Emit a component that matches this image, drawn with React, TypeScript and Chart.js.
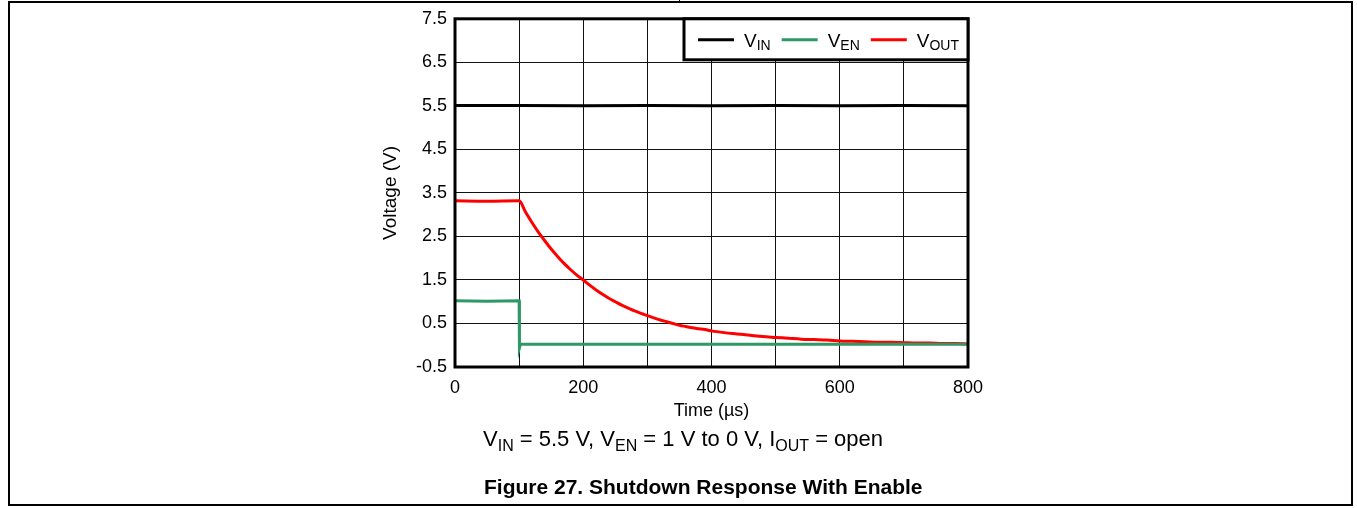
import React, { useEffect, useRef } from "react";
import { Chart, registerables } from "chart.js";

Chart.register(...registerables);

// ---- data ----
const vinTime = [0, 100, 200, 300, 400, 500, 600, 700, 800];
const vinValues = [5.51, 5.51, 5.5, 5.51, 5.5, 5.51, 5.5, 5.51, 5.5];

const venTime = [0, 50, 100, 100.5, 102, 200, 300, 400, 500, 600, 700, 800];
const venValues = [1.02, 1.01, 1.02, -0.06, 0.02, 0.02, 0.02, 0.02, 0.02, 0.02, 0.02, 0.02];

const voutTime = [
  0, 50, 100, 110, 120, 130, 140, 150, 160, 170, 180, 190, 200, 210, 220, 230, 240, 250,
  260, 270, 280, 290, 300, 310, 320, 330, 340, 350, 360, 370, 380, 390, 400, 420, 440,
  460, 480, 500, 520, 540, 560, 580, 600, 620, 640, 660, 680, 700, 720, 740, 760, 780, 800,
];
const voutValues = [
  3.32, 3.31, 3.32, 3.06, 2.82, 2.6, 2.4, 2.21, 2.04, 1.88, 1.74, 1.61, 1.5, 1.38, 1.27,
  1.17, 1.08, 1.0, 0.92, 0.85, 0.79, 0.73, 0.68, 0.63, 0.58, 0.54, 0.5, 0.46, 0.43, 0.4,
  0.38, 0.36, 0.33, 0.29, 0.26, 0.23, 0.2, 0.18, 0.16, 0.14, 0.13, 0.12, 0.1, 0.09, 0.08,
  0.07, 0.07, 0.06, 0.05, 0.05, 0.04, 0.04, 0.03,
];

const xTickLabels = ["0", "200", "400", "600", "800"];
const yTickLabels = ["-0.5", "0.5", "1.5", "2.5", "3.5", "4.5", "5.5", "6.5", "7.5"];

const seriesMain = ["V", "V", "V"];
const seriesSub = ["IN", "EN", "OUT"];
const seriesColors = ["#000000", "#2e9966", "#ff0000"];

const FONT = "'Liberation Sans', Arial, Helvetica, sans-serif";

const toPoints = (xs: number[], ys: number[]) => xs.map((x, i) => ({ x, y: ys[i] }));

const framePlugin = {
  id: "frameAndLegend",
  afterDatasetsDraw(chart: any) {
    const ctx = chart.ctx;
    const { left, right, top, bottom } = chart.chartArea;
    ctx.save();
    ctx.lineWidth = 3;
    ctx.strokeStyle = "#000";
    ctx.strokeRect(left, top, right - left, bottom - top);

    // legend box
    const w = 284;
    const h = 41;
    const x0 = right - w;
    const y0 = top;
    ctx.fillStyle = "#fff";
    ctx.fillRect(x0, y0, w, h);
    ctx.strokeRect(x0, y0, w, h);

    let x = x0 + 14;
    const cy = y0 + 21;
    ctx.textBaseline = "alphabetic";
    ctx.textAlign = "left";
    for (let i = 0; i < seriesMain.length; i++) {
      ctx.strokeStyle = seriesColors[i];
      ctx.lineWidth = 3;
      ctx.beginPath();
      ctx.moveTo(x, cy);
      ctx.lineTo(x + 36, cy);
      ctx.stroke();
      x += 46;
      ctx.fillStyle = "#000";
      ctx.font = `19px ${FONT}`;
      ctx.fillText(seriesMain[i], x, cy + 7);
      x += ctx.measureText(seriesMain[i]).width;
      ctx.font = `14px ${FONT}`;
      ctx.fillText(seriesSub[i], x, cy + 10);
      x += ctx.measureText(seriesSub[i]).width + 11;
    }
    ctx.restore();
  },
};

export default function App() {
  const canvasRef = useRef<HTMLCanvasElement | null>(null);

  useEffect(() => {
    if (!canvasRef.current) return;
    const chart = new Chart(canvasRef.current, {
      type: "line",
      data: {
        datasets: [
          {
            label: "VIN",
            data: toPoints(vinTime, vinValues),
            borderColor: seriesColors[0],
            borderWidth: 3,
            pointRadius: 0,
            tension: 0,
          },
          {
            label: "VEN",
            data: toPoints(venTime, venValues),
            borderColor: seriesColors[1],
            borderWidth: 3,
            pointRadius: 0,
            tension: 0,
          },
          {
            label: "VOUT",
            data: toPoints(voutTime, voutValues),
            borderColor: seriesColors[2],
            borderWidth: 3,
            pointRadius: 0,
            cubicInterpolationMode: "monotone",
          },
        ],
      },
      options: {
        responsive: false,
        animation: false,
        layout: { padding: { left: 370, right: 389, top: 16, bottom: 8 } },
        plugins: { legend: { display: false }, tooltip: { enabled: false } },
        scales: {
          x: {
            type: "linear",
            min: 0,
            max: 800,
            afterFit: (s: any) => {
              s.height = 55;
            },
            afterBuildTicks: (s: any) => {
              s.ticks = [0, 100, 200, 300, 400, 500, 600, 700, 800].map((v) => ({ value: v }));
            },
            ticks: {
              color: "#000",
              font: { family: FONT, size: 18 },
              padding: 10,
              maxRotation: 0,
              autoSkip: false,
              callback: (v: any) => {
                const s = String(v);
                return xTickLabels.includes(s) ? s : "";
              },
            },
            grid: { color: "#111", lineWidth: 1, drawTicks: false },
            border: { display: false },
            title: {
              display: true,
              text: "Time (µs)",
              color: "#000",
              font: { family: FONT, size: 18 },
              padding: { top: 0, bottom: 0 },
            },
          },
          y: {
            type: "linear",
            min: -0.5,
            max: 7.5,
            afterFit: (s: any) => {
              s.width = 85;
            },
            afterBuildTicks: (s: any) => {
              s.ticks = yTickLabels.map((t) => ({ value: parseFloat(t) }));
            },
            ticks: {
              color: "#000",
              font: { family: FONT, size: 18 },
              padding: 8,
              callback: (v: any) => {
                const found = yTickLabels.find((t) => Math.abs(parseFloat(t) - Number(v)) < 1e-6);
                return found ?? "";
              },
            },
            grid: { color: "#111", lineWidth: 1, drawTicks: false },
            border: { display: false },
            title: {
              display: true,
              text: "Voltage (V)",
              color: "#000",
              font: { family: FONT, size: 19 },
              padding: { top: 9, bottom: 0 },
            },
          },
        },
      },
      plugins: [framePlugin],
    });
    return () => chart.destroy();
  }, []);

  const line = (style: React.CSSProperties) => (
    <div style={{ position: "absolute", background: "#000", ...style }} />
  );

  const sub: React.CSSProperties = { fontSize: 16, verticalAlign: "-0.3em", lineHeight: 0 };

  return (
    <div style={{ position: "absolute", left: 0, top: 0, width: 1357, height: 508, fontFamily: FONT }}>
      {line({ left: 8, top: 1, width: 1345, height: 2 })}
      {line({ left: 8, top: 1, width: 2, height: 505 })}
      {line({ left: 1351, top: 1, width: 2, height: 505 })}
      {line({ left: 8, top: 504, width: 1345, height: 2 })}
      {line({ left: 679, top: 0, width: 1, height: 2 })}
      <canvas
        ref={canvasRef}
        width={1357}
        height={430}
        style={{ position: "absolute", left: 0, top: 0, width: 1357, height: 430 }}
      />
      <div
        style={{
          position: "absolute",
          left: 483,
          top: 426,
          fontSize: 22,
          color: "#000",
          whiteSpace: "nowrap",
          lineHeight: "26px",
        }}
      >
        V<span style={sub}>IN</span> = 5.5 V, V<span style={sub}>EN</span> = 1 V to 0 V, I
        <span style={sub}>OUT</span> = open
      </div>
      <div
        style={{
          position: "absolute",
          left: 484,
          top: 474,
          fontSize: 21,
          fontWeight: "bold",
          color: "#000",
          whiteSpace: "nowrap",
          lineHeight: "26px",
        }}
      >
        Figure 27. Shutdown Response With Enable
      </div>
    </div>
  );
}
